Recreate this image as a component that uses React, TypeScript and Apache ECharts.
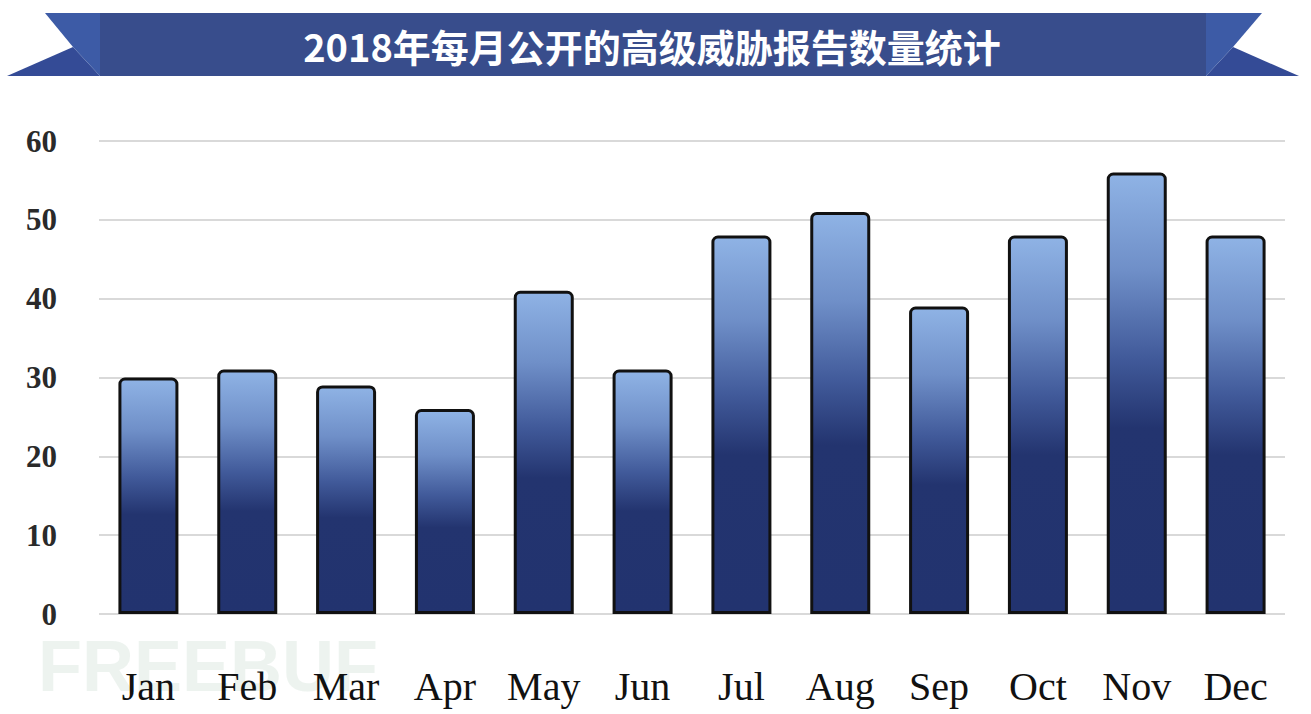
import React, { useEffect, useRef } from "react";
import * as echarts from "echarts";

const months = ["Jan", "Feb", "Mar", "Apr", "May", "Jun", "Jul", "Aug", "Sep", "Oct", "Nov", "Dec"];
const reportCounts = [30, 31, 29, 26, 41, 31, 48, 51, 39, 48, 56, 48];
const titleText = "2018年每月公开的高级威胁报告数量统计";
const watermarkText = "FREEBUF";

export default function App() {
  const ref = useRef<HTMLDivElement>(null);
  useEffect(() => {
    if (!ref.current) return;
    const chart = echarts.init(ref.current, null, { renderer: "svg" });
    const barGradient = new echarts.graphic.LinearGradient(0, 0, 0, 1, [
      { offset: 0, color: "#8fb3e5" },
      { offset: 0.22, color: "#6f8fc8" },
      { offset: 0.42, color: "#415a9a" },
      { offset: 0.58, color: "#23346f" },
      { offset: 1, color: "#22336f" },
    ]);
    chart.setOption({
      animation: false,
      backgroundColor: "#ffffff",
      grid: { left: 99, right: 26, top: 141, bottom: 100, containLabel: false },
      xAxis: {
        type: "category",
        data: months,
        axisLine: { show: false },
        axisTick: { show: false },
        axisLabel: {
          margin: 52,
          fontFamily: "Liberation Serif",
          fontSize: 40,
          color: "#111",
        },
      },
      yAxis: {
        type: "value",
        min: 0,
        max: 60,
        interval: 10,
        axisLine: { show: false },
        axisTick: { show: false },
        splitLine: { lineStyle: { color: "#cccccc", width: 1.5 } },
        axisLabel: {
          margin: 42,
          fontFamily: "Liberation Serif",
          fontSize: 31,
          fontWeight: "bold",
          color: "#2a2a2a",
        },
      },
      graphic: [
        {
          type: "text",
          left: 38,
          top: 630,
          z: -10,
          style: {
            text: watermarkText,
            fontSize: 72,
            fontWeight: "bold",
            fontFamily: "Liberation Sans",
            fill: "rgba(215,228,220,0.45)",
          },
        },
        {
          type: "polygon",
          shape: { points: [[100, 13], [1206, 13], [1206, 76], [100, 76]] },
          style: { fill: "#384d8c" },
        },
        {
          type: "polygon",
          shape: { points: [[7, 76], [73, 47], [100, 76]] },
          style: { fill: "#344b96" },
        },
        {
          type: "polygon",
          shape: { points: [[45, 13], [100, 13], [100, 76], [73, 47]] },
          style: { fill: "#3d5ba6" },
        },
        {
          type: "polygon",
          shape: { points: [[1299, 76], [1233, 47], [1206, 76]] },
          style: { fill: "#344b96" },
        },
        {
          type: "polygon",
          shape: { points: [[1262, 13], [1206, 13], [1206, 76], [1233, 47]] },
          style: { fill: "#3d5ba6" },
        },
        {
          type: "text",
          x: 652,
          y: 45,
          style: {
            text: titleText,
            fontSize: 38,
            fontWeight: "bold",
            fontFamily: "Noto Sans CJK SC",
            fill: "#ffffff",
            align: "center",
            verticalAlign: "middle",
          },
        },
      ],
      series: [
        {
          type: "bar",
          data: reportCounts,
          barWidth: 60,
          itemStyle: {
            color: barGradient,
            borderColor: "#111111",
            borderWidth: 3,
            borderRadius: [5, 5, 0, 0],
          },
        },
      ],
    });
    return () => chart.dispose();
  }, []);
  return <div ref={ref} style={{ width: 1311, height: 714, position: "absolute", left: 0, top: 0 }} />;
}
